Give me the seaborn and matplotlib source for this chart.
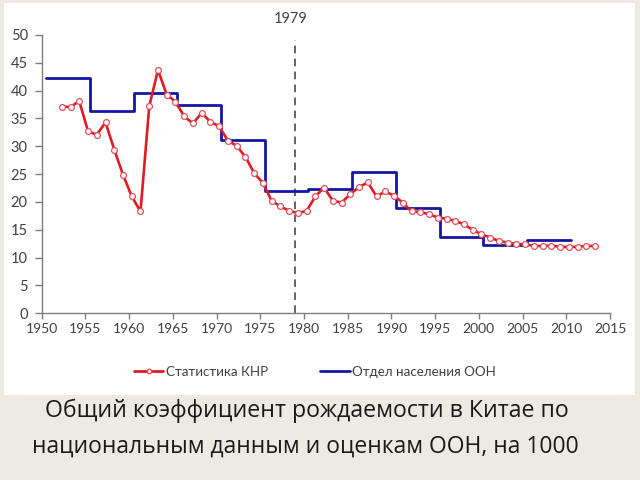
import numpy as np
import pandas as pd
import matplotlib
matplotlib.use("Agg")
import matplotlib.pyplot as plt
from matplotlib.lines import Line2D
from matplotlib.patches import Rectangle
import seaborn as sns

# ---------------- data ----------------
prc_years = list(range(1952, 2014))
prc_rate = [37.1, 37.1, 38.1, 32.7, 32.1, 34.3, 29.4, 24.9, 21.0, 18.3,
            37.2, 43.7, 39.3, 38.0, 35.4, 34.1, 36.0, 34.4, 33.6, 31.0,
            30.1, 28.1, 25.2, 23.4, 20.2, 19.2, 18.4, 18.0, 18.4, 21.0,
            22.6, 20.2, 19.9, 21.4, 22.7, 23.5, 21.0, 21.9, 21.1, 19.9,
            18.3, 18.2, 17.8, 17.2, 17.0, 16.6, 16.0, 15.0, 14.2, 13.6,
            13.0, 12.7, 12.45, 12.4, 12.1, 12.1, 12.15, 11.95, 11.9, 11.95,
            12.1, 12.1]
un_period_start = [1950, 1955, 1960, 1965, 1970, 1975, 1980, 1985, 1990, 1995, 2000, 2005, 2010]
un_rate = [42.2, 36.4, 39.5, 37.4, 31.1, 22.0, 22.4, 25.4, 18.9, 13.7, 12.3, 13.2, 13.2]

series_labels = ["Статистика КНР", "Отдел населения ООН"]
event_year = 1979
x_ticks = list(range(1950, 2016, 5))
y_ticks = list(range(0, 51, 5))
caption_lines = ["Общий коэффициент рождаемости в Китае по",
                 "национальным данным и оценкам ООН, на 1000"]

# ---------------- style ----------------
RED = "#e01b22"
BLUE = "#1616a4"
AX_GREY = "#7f7f7f"
TXT = "#404040"
PRC_SHIFT = 0.3
UN_SHIFT = 0.5

sns.set_theme(style="white")
plt.rcParams["font.family"] = ["Lato", "DejaVu Sans"]

fig = plt.figure(figsize=(6.4, 4.8), dpi=100)
fig.patch.set_facecolor("#eceae3")
fig.patches.append(Rectangle((4 / 640, 1 - 395 / 480), 631 / 640, 392 / 480,
                             transform=fig.transFigure, facecolor="white",
                             edgecolor="none", zorder=-5))

ax = fig.add_axes([41.7 / 640, 1 - 313.3 / 480, (610 - 41.7) / 640, (313.3 - 35) / 480])
ax.set_zorder(1)
ax.set_facecolor("none")
ax.patch.set_alpha(0)

df_prc = pd.DataFrame({"year": np.array(prc_years) + PRC_SHIFT, "rate": prc_rate})
df_un = pd.DataFrame({"year": np.array(un_period_start) + UN_SHIFT, "rate": un_rate})

sns.lineplot(data=df_un, x="year", y="rate", ax=ax, color=BLUE, linewidth=2.0,
             drawstyle="steps-post", zorder=3)
sns.lineplot(data=df_prc, x="year", y="rate", ax=ax, color=RED, linewidth=1.9,
             marker="o", markersize=4.2, markerfacecolor="white",
             markeredgecolor="#e2505a", markeredgewidth=0.9, zorder=4)

ax.set_xlim(1950, 2015)
ax.set_ylim(0, 50)
ax.set_xticks(x_ticks)
ax.set_yticks(y_ticks)
ax.set_xlabel("")
ax.set_ylabel("")
for s in ["top", "right"]:
    ax.spines[s].set_visible(False)
for s in ["left", "bottom"]:
    ax.spines[s].set_color(AX_GREY)
    ax.spines[s].set_linewidth(1.0)
ax.tick_params(axis="y", direction="out", length=5, width=1, color=AX_GREY,
               labelsize=10.5, labelcolor=TXT, pad=5, left=True)
ax.tick_params(axis="x", direction="out", length=4, width=1, color=AX_GREY,
               labelsize=10, labelcolor=TXT, pad=3, bottom=True)

# 1979 marker
ax.axvline(event_year, ymin=0, ymax=0.982, color="#3a3a3a", linewidth=1.1,
           dashes=(5, 3.5), zorder=2)
ax.text(event_year - 0.5, 52.8, str(event_year), ha="center", va="center",
        fontsize=10.5, color=TXT, clip_on=False)

handles = [Line2D([], [], color=RED, linewidth=2, marker="o", markersize=3.2,
                  markerfacecolor="white", markeredgecolor="#e2505a"),
           Line2D([], [], color=BLUE, linewidth=2)]
ax.legend(handles, series_labels, loc="center", bbox_to_anchor=(0.481, -0.211),
          ncol=2, frameon=False, fontsize=9.6, handlelength=2.2, handletextpad=0.2,
          columnspacing=3.9, labelcolor=TXT)

fig.text(307 / 640, 1 - 411 / 480, caption_lines[0], ha="center", va="center",
         fontsize=16.7, color="#1a1a1a", family=["Open Sans", "DejaVu Sans"])
fig.text(305 / 640, 1 - 447 / 480, caption_lines[1], ha="center", va="center",
         fontsize=16.5, color="#1a1a1a", family=["Open Sans", "DejaVu Sans"])

fig.savefig("out.png", dpi=100, facecolor=fig.get_facecolor())
